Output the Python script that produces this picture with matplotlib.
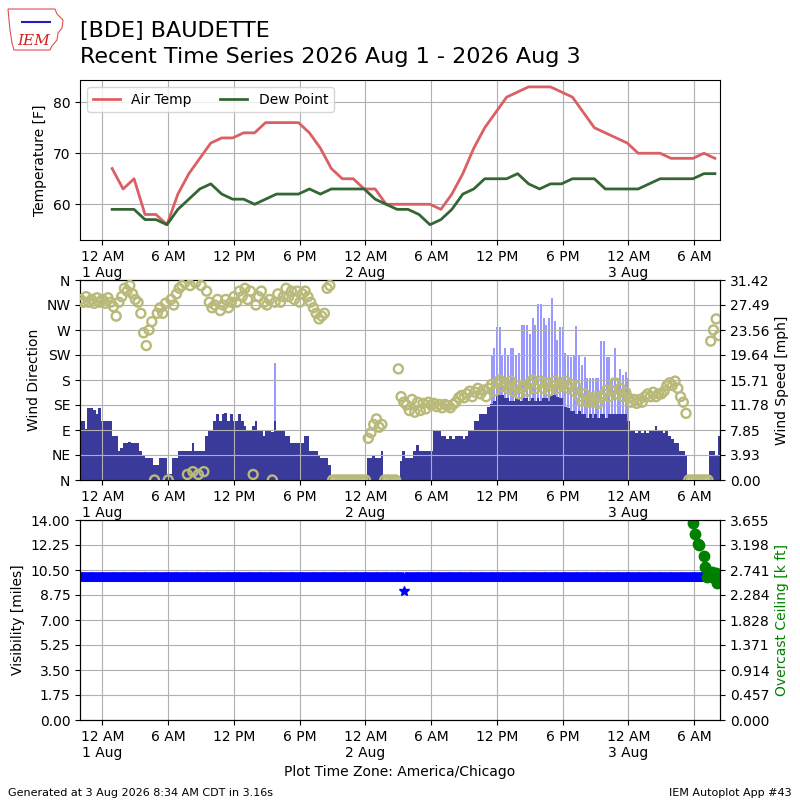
import datetime
import numpy as np
import matplotlib
matplotlib.use("Agg")
import matplotlib.pyplot as plt
import matplotlib.dates as mdates
from matplotlib.ticker import FuncFormatter, FormatStrFormatter
from matplotlib.patches import Polygon

BASE = datetime.datetime(2026, 8, 1)

# hourly obs, first one at 12:53 AM 1 Aug
temp_f = [67, 63, 65, 58, 58, 56, 62, 66, 69, 72,
          73, 73, 74, 74, 76, 76, 76, 76, 74, 71,
          67, 65, 65, 63, 63, 60, 60, 60, 60, 60,
          59, 62, 66, 71, 75, 78, 81, 82, 83, 83,
          83, 82, 81, 78, 75, 74, 73, 72, 70, 70,
          70, 69, 69, 69, 70, 69]
dewp_f = [59, 59, 59, 57, 57, 56, 59, 61, 63, 64,
          62, 61, 61, 60, 61, 62, 62, 62, 63, 62,
          63, 63, 63, 63, 61, 60, 59, 59, 58, 56,
          57, 59, 62, 63, 65, 65, 65, 66, 64, 63,
          64, 64, 65, 65, 65, 63, 63, 63, 63, 64,
          65, 65, 65, 65, 66, 66]

# 15 minute wind, first value 10 PM 31 Jul, one row per hour
wind_mph = [
    9.2, 9.2, 8.0, 11.3,     # 10 PM
    11.3, 11.0, 10.3, 11.3,  # 11 PM
    9.2, 9.2, 9.2, 9.2,      # 12 AM 1 Aug
    6.9, 6.9, 4.5, 5.0,
    5.8, 5.8, 6.0, 5.8,
    5.8, 5.8, 4.5, 4.0,
    3.5, 3.5, 3.5, 2.4,
    2.4, 3.5, 3.5, 3.5,
    1.0, 1.0, 3.5, 3.5,      # 6 AM
    4.5, 4.5, 4.5, 4.5,
    4.5, 5.8, 4.5, 4.5,
    4.5, 4.5, 6.9, 7.9,
    7.9, 9.2, 10.3, 9.2,
    10.3, 10.5, 9.2, 10.3,
    9.2, 9.2, 10.3, 9.2,     # 12 PM
    8.5, 7.9, 7.9, 8.5,
    9.2, 7.9, 7.9, 6.9,
    7.9, 7.9, 7.5, 9.2,
    7.9, 7.9, 7.9, 6.9,
    6.9, 5.8, 5.8, 5.8,
    5.8, 5.8, 6.9, 6.9,      # 6 PM
    4.5, 4.5, 4.5, 4.0,
    3.5, 3.5, 3.5, 2.4,
    0, 0, 0, 0,
    0, 0, 0, 0,
    0, 0, 0, 0,
    0, 3.5, 3.5, 4.0,        # 12 AM 2 Aug
    3.5, 3.5, 4.5, 0,
    0, 0, 0, 0,
    0, 3.0, 4.5, 3.5,
    3.5, 3.5, 4.5, 5.5,
    4.5, 4.5, 4.5, 4.5,
    4.5, 7.9, 7.9, 7.9,      # 6 AM
    6.9, 6.9, 6.4, 6.9,
    6.4, 6.9, 6.9, 6.9,
    6.4, 6.9, 7.9, 7.9,
    9.2, 9.2, 10.3, 10.3,
    10.3, 11.5, 12.0, 12.4,
    13.4, 13.4, 13.4, 12.9,  # 12 PM
    12.9, 12.4, 12.4, 12.9,
    12.9, 12.4, 12.9, 12.9,
    12.4, 12.9, 12.4, 12.9,
    12.4, 12.9, 12.9, 12.4,
    13.4, 13.4, 13.0, 12.9,
    12.9, 11.5, 11.3, 10.8,  # 6 PM
    10.8, 10.3, 10.8, 10.3,
    10.3, 9.8, 10.3, 9.8,
    10.3, 9.8, 10.3, 10.3,
    9.8, 10.3, 10.3, 10.3,
    10.3, 10.3, 10.3, 10.3,
    9.2, 7.9, 7.9, 7.4,      # 12 AM 3 Aug
    7.9, 7.4, 7.9, 7.4,
    7.9, 7.9, 8.5, 7.9,
    7.9, 7.4, 7.9, 6.9,
    6.4, 5.8, 5.8, 4.5,
    4.5, 4.0, 0, 0,
    0, 0, 0, 0,              # 6 AM
    0, 0, 4.5, 4.5,
    4.0, 6.9,
]
wind_dir = [
    325, 320, 330, 320,
    325, 318, 328, 320,
    325, 318, 328, 320,
    312, 295, 320, 330,
    345, 340, 350, 335,
    325, 320, 300, 265,
    242, 270, 285, 0,
    300, 310, 300, 318,
    0, 325, 315, 335,
    345, 350, 355, 10,
    350, 15, 355, 10,
    350, 15, 340, 320,
    310, 315, 325, 305,
    315, 325, 310, 320,
    330, 320, 340, 330,
    345, 325, 340, 10,
    315, 330, 340, 320,
    315, 325, 0, 320,
    335, 320, 330, 345,
    330, 340, 325, 340,
    320, 335, 340, 330,
    320, 310, 300, 290,
    295, 300, 345, 350,
    0, 0, 0, 0,
    0, 0, 0, 0,
    0, 0, 0, 0,
    0, 75, 85, 100,
    110, 95, 100, 0,
    0, 0, 0, 0,
    200, 150, 140, 135,
    125, 145, 122, 140,
    125, 138, 128, 140,
    135, 138, 132, 136,
    130, 136, 134, 130,
    136, 140, 148, 152,
    148, 155, 160, 150,
    158, 165, 155, 162,
    150, 165, 172, 160,
    175, 180, 168, 175,
    165, 178, 160, 170,
    155, 165, 170, 160,
    175, 180, 165, 172,
    178, 165, 175, 160,
    170, 178, 165, 172,
    170, 178, 165, 172,
    160, 168, 150, 142,
    155, 140, 148, 140,
    150, 138, 148, 155,
    162, 150, 160, 175,
    155, 165, 150, 158,
    148, 140, 145, 138,
    145, 140, 150, 155,
    150, 158, 150, 155,
    155, 160, 170, 175,
    170, 178, 165, 150,
    140, 120, 0, 0,
    0, 0, 0, 0,
    0, 0, 250, 270,
    290, 260,
]
# gusts, hours after midnight 1 Aug
gust_hours = [15.75, 35.5, 35.75,
              36.0, 36.25, 36.5, 36.75, 37.0, 37.25, 37.5, 37.75,
              38.0, 38.25, 38.5, 38.75, 39.0, 39.25, 39.5, 39.75,
              40.0, 40.25, 40.5, 40.75, 41.0, 41.25, 41.5, 41.75,
              42.0, 42.25, 42.5, 42.75, 43.0, 43.25, 43.5, 43.75,
              44.0, 44.25, 44.5, 44.75, 45.0, 45.25, 45.5, 45.75,
              46.0, 46.25, 46.5, 46.75, 47.0, 47.25, 47.5, 47.75, 48.0]
gust_mph = [18.4, 19.7, 20.7,
            24.1, 24.1, 19.7, 20.7, 19.7, 20.7, 20.7, 19.7,
            20.0, 24.4, 24.4, 24.4, 23.0, 25.5, 24.4, 27.6,
            27.6, 25.5, 24.4, 25.5, 28.6, 25.0, 22.0, 24.0,
            24.0, 20.0, 19.7, 19.4, 19.7, 24.2, 19.7, 18.0,
            19.4, 16.0, 16.0, 16.0, 16.0, 16.0, 21.8, 21.8,
            19.4, 19.4, 16.0, 20.7, 16.0, 17.5, 16.5, 17.0, 16.0]

# visibility every 5 minutes from 10 PM 31 Jul (10 mi all along, one 9 mi report)
vis_miles = [10.0] * 354 + [9.0] + [10.0] * 330

ceil_hours = [53.9, 54.05, 54.3, 54.45, 54.85, 55.0, 55.2, 55.66, 55.8, 55.97, 56.1]
ceil_kft = [3.60, 3.40, 3.21, 3.20, 3.00, 2.80, 2.62, 2.71, 2.59, 2.68, 2.50]


def at(hours):
    return [BASE + datetime.timedelta(hours=h) for h in hours]


obs_times = at([53 / 60. + i for i in range(len(temp_f))])
wind_times = at([-2 + 0.25 * i for i in range(len(wind_mph))])
vis_times = at([-2 + i / 12. for i in range(len(vis_miles))])

x0, x1 = at([-2.05, 56.35])


def timefmt(x, pos=None):
    d = mdates.num2date(x + 1e-6)
    h12 = d.hour % 12 or 12
    ampm = "AM" if d.hour < 12 else "PM"
    s = "%d %s" % (h12, ampm)
    if d.hour == 0:
        s += "\n%d %s" % (d.day, d.strftime("%b"))
    return s


def style_time(ax):
    ax.set_xlim(x0, x1)
    ax.xaxis.set_major_locator(mdates.HourLocator(byhour=[0, 6, 12, 18]))
    ax.xaxis.set_major_formatter(FuncFormatter(timefmt))
    ax.grid(True)


fig = plt.figure(figsize=(8, 8), dpi=100)

# ---- temperature
ax1 = fig.add_axes([0.1, 0.7, 0.8, 0.2])
ax1.plot(obs_times, temp_f, color="#db6065", lw=2, label="Air Temp")
ax1.plot(obs_times, dewp_f, color="#346633", lw=2, label="Dew Point")
ax1.set_ylim(53, 84.35)
ax1.set_yticks([60, 70, 80])
ax1.set_ylabel("Temperature [F]")
ax1.legend(loc="upper left", ncol=2)
style_time(ax1)

# ---- wind
ax2 = fig.add_axes([0.1, 0.4, 0.8, 0.25])
ax2r = ax2.twinx()
ax2.set_zorder(ax2r.get_zorder() + 1)
ax2.patch.set_visible(False)
ax2r.bar(at(gust_hours), gust_mph, width=11 / 1440., color="#9999ff", linewidth=0)
ax2r.bar(wind_times, wind_mph, width=15 / 1440., color="#3a3a9a", linewidth=0)
ax2.scatter(wind_times, wind_dir, s=42, facecolors="none", edgecolors="#b9b979",
            linewidths=1.7, zorder=3)
ax2.set_ylim(0, 360)
ax2.set_yticks(range(0, 361, 45))
ax2.set_yticklabels(["N", "NE", "E", "SE", "S", "SW", "W", "NW", "N"])
ax2.set_ylabel("Wind Direction")
ax2r.set_ylim(0, 31.418)
ax2r.set_yticks(np.linspace(0, 31.418, 9))
ax2r.yaxis.set_major_formatter(FormatStrFormatter("%.2f"))
ax2r.set_ylabel("Wind Speed [mph]")
style_time(ax2)

# ---- visibility / ceiling
ax3 = fig.add_axes([0.1, 0.1, 0.8, 0.25])
ax3r = ax3.twinx()
ax3.plot(vis_times, vis_miles, "*", color="blue", ms=7, linestyle="none")
ax3r.plot(at(ceil_hours), ceil_kft, "o", color="green", ms=7.5, linestyle="none")
ax3.set_ylim(0, 14)
ax3.set_yticks(np.linspace(0, 14, 9))
ax3.yaxis.set_major_formatter(FormatStrFormatter("%.2f"))
ax3.set_ylabel("Visibility [miles]")
ax3r.set_ylim(0, 3.6551)
ax3r.set_yticks(np.linspace(0, 3.6551, 9))
ax3r.yaxis.set_major_formatter(FormatStrFormatter("%.3f"))
ax3r.set_ylabel("Overcast Ceiling [k ft]", color="green")
ax3.set_xlabel("Plot Time Zone: America/Chicago")
style_time(ax3)

# ---- titles and footer
fig.text(0.1, 0.954, "[BDE] BAUDETTE", fontsize=16, va="baseline")
fig.text(0.1, 0.921, "Recent Time Series 2026 Aug 1 - 2026 Aug 3", fontsize=16, va="baseline")
fig.text(0.01, 0.009, "Generated at 3 Aug 2026 8:34 AM CDT in 3.16s", fontsize=8, va="center")
fig.text(0.99, 0.009, "IEM Autoplot App #43", fontsize=8, va="center", ha="right")

# rough IEM logo
outline = [(8, 9), (55, 9), (57, 14), (63, 20), (62, 28), (58, 33), (57, 40),
           (52, 46), (50, 50), (14, 50), (12, 43), (10, 30), (9, 20)]
fig.patches.append(Polygon([(x / 800., 1 - y / 800.) for x, y in outline], closed=True,
                           fill=False, edgecolor="#e05050", lw=0.8,
                           transform=fig.transFigure, figure=fig))
fig.lines.append(plt.Line2D([22 / 800., 50 / 800.], [1 - 22 / 800., 1 - 22 / 800.],
                            color="#2020c0", lw=1.5, transform=fig.transFigure, figure=fig))
fig.text(17 / 800., 1 - 45 / 800., "IEM", color="#d02020", style="italic",
         family="serif", fontsize=11, va="baseline")

fig.savefig("out.png")
